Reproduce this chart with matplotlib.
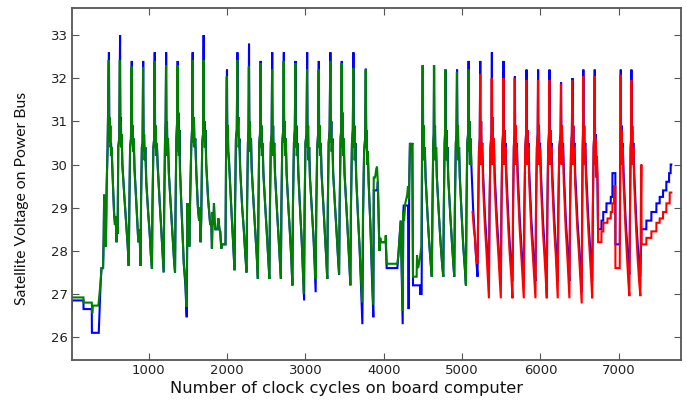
import matplotlib
matplotlib.use("Agg")
import matplotlib.pyplot as plt

# ---------------- data ----------------
# green series (x = clock cycle, y = bus voltage)
green_pts = [
    (20, 26.92), (170, 26.92), (171, 26.80), (276, 26.80), (282, 26.55), (290, 26.73), (360, 26.73),
    (372, 26.95), (390, 27.3), (400, 27.6), (420, 27.6), (428, 28.3), (434, 29.3), (442, 28.1),
    (448, 28.9), (456, 28.1), (466, 29.5), (478, 30.4),
    (492, 32.42), (497, 30.6), (502, 31.1), (508, 30.5), (514, 30.9), (520, 30.2), (530, 30.4),
    (545, 29.6), (560, 28.9), (572, 28.6), (580, 28.8), (592, 28.2), (600, 28.6), (606, 28.4),
    (614, 30.4), (626, 30.6),
    (634, 32.42), (640, 30.5), (645, 31.0), (652, 30.4), (658, 30.7), (665, 30.0), (690, 29.3),
    (705, 28.9), (720, 28.5), (735, 28.1), (748, 27.65), (755, 29.0), (765, 30.4), (776, 30.6),
    (784, 32.27), (790, 30.5), (796, 30.9), (802, 30.3), (810, 30.6), (820, 29.9), (845, 29.1),
    (870, 28.2), (885, 28.5), (898, 27.65), (905, 29.2), (915, 30.4), (924, 30.5),
    (930, 32.25), (936, 30.3), (942, 30.7), (950, 30.1), (958, 30.4), (970, 29.6), (995, 28.9),
    (1015, 28.4), (1030, 27.9), (1044, 27.58), (1050, 29.0), (1062, 30.4), (1072, 30.6),
    (1077, 32.4), (1083, 30.4), (1090, 30.9), (1096, 30.2), (1105, 30.5), (1115, 30.0), (1140, 29.2),
    (1160, 28.6), (1178, 28.0), (1193, 27.5), (1200, 29.0), (1210, 30.5), (1218, 31.0),
    (1223, 32.3), (1228, 30.6), (1234, 31.0), (1240, 30.2), (1247, 30.6), (1258, 29.8), (1285, 29.0),
    (1305, 28.4), (1325, 27.8), (1338, 27.5), (1345, 29.0), (1355, 30.6), (1365, 31.0),
    (1370, 32.3), (1375, 30.3), (1381, 31.2), (1387, 30.2), (1393, 30.8), (1400, 29.9), (1420, 29.0),
    (1440, 28.1), (1450, 27.7), (1470, 27.3), (1485, 26.7), (1497, 29.1), (1505, 28.5), (1512, 29.0),
    (1520, 28.1), (1530, 29.1), (1545, 30.4), (1555, 30.8),
    (1560, 32.42), (1566, 31.0), (1572, 30.5), (1578, 31.1), (1585, 30.4), (1595, 30.6), (1610, 29.8),
    (1630, 29.0), (1645, 28.7), (1652, 29.0), (1664, 28.2), (1672, 28.7), (1685, 30.5), (1695, 30.7),
    (1700, 32.42), (1706, 30.6), (1712, 31.0), (1718, 30.4), (1725, 30.8), (1735, 30.0), (1760, 29.2),
    (1787, 28.6), (1800, 28.7), (1809, 28.05), (1818, 28.9), (1828, 28.6), (1835, 29.1), (1842, 28.7),
    (1851, 28.5), (1880, 28.5), (1890, 28.75), (1905, 28.5), (1915, 28.45), (1928, 28.05), (1935, 28.15),
    (1982, 28.15), (1990, 30.5),
    (1998, 32.04), (2004, 30.5), (2010, 30.9), (2016, 30.3), (2025, 30.1), (2050, 29.2), (2070, 28.5),
    (2085, 28.0), (2097, 27.55), (2104, 29.0), (2115, 30.6), (2126, 30.8),
    (2132, 32.42), (2138, 30.8), (2144, 31.1), (2150, 30.4), (2158, 30.6), (2168, 29.9), (2195, 29.0),
    (2215, 28.5), (2235, 27.9), (2250, 27.5), (2257, 29.0), (2268, 30.5), (2275, 30.8),
    (2280, 32.27), (2286, 30.5), (2292, 31.0), (2298, 30.3), (2306, 30.6), (2315, 29.9), (2340, 29.1),
    (2360, 28.5), (2380, 27.9), (2395, 27.35), (2402, 29.0), (2412, 30.5), (2422, 30.7),
    (2428, 32.35), (2434, 30.4), (2440, 30.9), (2446, 30.2), (2454, 30.5), (2464, 29.8), (2490, 29.0),
    (2510, 28.4), (2528, 27.8), (2542, 27.35), (2549, 29.0), (2560, 30.5), (2570, 30.7),
    (2576, 32.2), (2582, 30.4), (2588, 30.9), (2594, 30.2), (2602, 30.5), (2612, 29.8), (2640, 28.9),
    (2660, 28.3), (2675, 27.8), (2688, 27.35), (2695, 29.0), (2706, 30.5), (2718, 30.8),
    (2724, 32.4), (2730, 30.5), (2736, 31.0), (2742, 30.2), (2750, 30.6), (2760, 29.8), (2785, 29.0),
    (2805, 28.4), (2822, 27.8), (2835, 27.2), (2842, 29.0), (2855, 30.5), (2866, 30.8),
    (2873, 32.35), (2879, 30.4), (2885, 30.9), (2891, 30.2), (2899, 30.5), (2910, 29.8), (2935, 28.9),
    (2955, 28.2), (2968, 27.6), (2980, 27.0), (2990, 29.0), (3002, 30.5), (3015, 30.7),
    (3022, 32.2), (3028, 30.4), (3034, 30.9), (3040, 30.1), (3048, 30.4), (3058, 29.7), (3085, 28.9),
    (3105, 28.3), (3120, 27.8), (3132, 27.35), (3140, 29.0), (3152, 30.4), (3163, 30.7),
    (3170, 32.2), (3176, 30.4), (3182, 30.9), (3188, 30.2), (3196, 30.5), (3206, 29.8), (3232, 29.0),
    (3252, 28.3), (3268, 27.8), (3280, 27.35), (3287, 29.0), (3298, 30.5), (3310, 30.8),
    (3318, 32.4), (3324, 30.5), (3330, 31.0), (3336, 30.3), (3344, 30.6), (3354, 29.8), (3380, 29.0),
    (3400, 28.4), (3418, 27.8), (3431, 27.45), (3438, 29.0), (3450, 30.6), (3458, 30.8),
    (3463, 32.35), (3469, 30.4), (3475, 31.2), (3481, 30.2), (3489, 30.6), (3499, 29.8), (3525, 29.0),
    (3545, 28.3), (3562, 27.7), (3575, 27.2), (3582, 29.0), (3595, 30.5), (3606, 30.8),
    (3612, 32.23), (3618, 30.4), (3624, 30.9), (3630, 30.1), (3638, 30.5), (3648, 29.7), (3672, 28.8),
    (3692, 28.1), (3710, 27.4), (3726, 26.8), (3735, 28.8), (3750, 30.3), (3763, 30.6),
    (3771, 32.2), (3777, 30.4), (3783, 30.8), (3789, 30.0), (3797, 30.3), (3807, 29.6), (3830, 28.6),
    (3850, 27.6), (3866, 26.75), (3873, 29.7), (3890, 29.7), (3905, 29.9), (3915, 29.95), (3925, 29.6),
    (3945, 28.0), (3955, 28.3), (3962, 28.2), (4020, 28.2), (4026, 28.36), (4038, 27.7), (4174, 27.7),
    (4187, 27.9), (4217, 28.7), (4242, 26.6), (4250, 28.9), (4260, 28.7), (4275, 29.1), (4300, 29.3),
    (4310, 29.5), (4322, 29.2), (4335, 30.5), (4350, 30.3), (4365, 30.5), (4374, 27.4), (4420, 27.4),
    (4425, 27.9), (4440, 27.6), (4460, 27.8), (4480, 28.1), (4490, 30.4),
    (4497, 32.3), (4503, 30.2), (4509, 30.9), (4515, 30.1), (4523, 30.4), (4533, 29.7), (4560, 28.8),
    (4580, 28.2), (4600, 27.7), (4614, 27.4), (4622, 29.0), (4632, 30.5), (4638, 30.7),
    (4641, 32.3), (4647, 30.3), (4653, 30.9), (4659, 30.1), (4667, 30.4), (4677, 29.7), (4705, 28.8),
    (4725, 28.2), (4745, 27.7), (4760, 27.4), (4767, 29.0), (4777, 30.5), (4782, 30.7),
    (4786, 32.2), (4792, 30.3), (4798, 30.8), (4804, 30.1), (4812, 30.4), (4822, 29.7), (4850, 28.8),
    (4870, 28.2), (4888, 27.7), (4900, 27.4), (4908, 29.0), (4920, 30.5), (4928, 30.7),
    (4934, 32.15), (4940, 30.3), (4946, 30.9), (4952, 30.1), (4960, 30.4), (4970, 29.7), (4995, 28.8),
    (5015, 28.1), (5035, 27.6), (5049, 27.2), (5056, 29.0), (5066, 30.5), (5076, 30.7),
    (5081, 32.2), (5087, 30.3), (5093, 31.0), (5100, 30.0), (5108, 30.6), (5118, 30.0),
]

# blue series
blue_pts = [
    (20, 26.65), (24, 26.85), (170, 26.85), (171, 26.65), (276, 26.65), (278, 26.1), (365, 26.1),
    (378, 26.72), (390, 27.3), (400, 27.6), (420, 27.6), (428, 28.3), (434, 29.3), (442, 28.1),
    (448, 28.9), (456, 28.1), (466, 29.5), (478, 30.4),
    (495, 32.6), (500, 31.1), (505, 30.7), (510, 30.9), (516, 30.4), (522, 30.5), (532, 30.2),
    (545, 29.6), (560, 28.9), (572, 28.6), (580, 28.8), (592, 28.2), (600, 28.6), (606, 28.4),
    (614, 30.4), (626, 30.6),
    (637, 33.0), (642, 30.7), (647, 31.1), (654, 30.4), (660, 30.6), (667, 30.0), (690, 29.3),
    (705, 28.9), (720, 28.5), (735, 28.1), (748, 27.65), (755, 29.0), (765, 30.4), (776, 30.6),
    (786, 32.4), (792, 30.7), (798, 30.9), (804, 30.3), (812, 30.6), (822, 29.9), (845, 29.1),
    (870, 28.2), (885, 28.5), (898, 27.65), (905, 29.2), (915, 30.4), (924, 30.5),
    (932, 32.4), (938, 30.5), (944, 30.7), (952, 30.1), (960, 30.4), (972, 29.6), (995, 28.9),
    (1015, 28.4), (1030, 27.9), (1044, 27.58), (1050, 29.0), (1062, 30.4), (1072, 30.6),
    (1079, 32.6), (1085, 30.6), (1092, 30.9), (1098, 30.2), (1107, 30.5), (1117, 30.0), (1140, 29.2),
    (1160, 28.6), (1178, 28.0), (1193, 27.5), (1200, 29.0), (1210, 30.5), (1218, 31.0),
    (1225, 32.6), (1230, 30.7), (1236, 31.0), (1242, 30.2), (1249, 30.6), (1260, 29.8), (1285, 29.0),
    (1305, 28.4), (1325, 27.8), (1338, 27.5), (1345, 29.0), (1355, 30.6), (1365, 31.0),
    (1372, 32.4), (1377, 30.5), (1383, 31.2), (1389, 30.2), (1395, 30.8), (1402, 29.9), (1420, 29.0),
    (1440, 28.1), (1450, 27.7), (1470, 27.2), (1487, 26.46), (1497, 29.1), (1505, 28.5), (1512, 29.0),
    (1520, 28.1), (1530, 29.1), (1545, 30.4), (1555, 30.8),
    (1563, 32.6), (1568, 31.1), (1574, 30.5), (1580, 31.1), (1587, 30.4), (1597, 30.6), (1610, 29.8),
    (1630, 29.0), (1645, 28.7), (1652, 29.0), (1664, 28.2), (1672, 28.7), (1685, 30.5), (1695, 30.7),
    (1703, 33.0), (1708, 30.7), (1714, 31.0), (1720, 30.4), (1727, 30.8), (1737, 30.0), (1760, 29.2),
    (1787, 28.6), (1800, 28.7), (1809, 28.05), (1818, 28.9), (1828, 28.6), (1835, 29.1), (1842, 28.7),
    (1851, 28.5), (1880, 28.5), (1890, 28.75), (1905, 28.5), (1915, 28.45), (1928, 28.05), (1935, 28.15),
    (1982, 28.15), (1990, 30.5),
    (2001, 32.2), (2006, 30.5), (2012, 30.9), (2018, 30.3), (2027, 30.1), (2050, 29.2), (2070, 28.5),
    (2085, 28.0), (2097, 27.55), (2104, 29.0), (2115, 30.6), (2126, 30.8),
    (2134, 32.6), (2140, 30.8), (2146, 31.1), (2152, 30.4), (2160, 30.6), (2170, 29.9), (2195, 29.0),
    (2215, 28.5), (2235, 27.9), (2250, 27.5), (2257, 29.0), (2268, 30.5), (2275, 30.8),
    (2282, 32.8), (2288, 30.5), (2294, 31.0), (2300, 30.3), (2308, 30.6), (2317, 29.9), (2340, 29.1),
    (2360, 28.5), (2380, 27.9), (2395, 27.35), (2402, 29.0), (2412, 30.5), (2422, 30.7),
    (2430, 32.4), (2436, 30.4), (2442, 30.9), (2448, 30.2), (2456, 30.5), (2466, 29.8), (2490, 29.0),
    (2510, 28.4), (2528, 27.8), (2542, 27.35), (2549, 29.0), (2560, 30.5), (2570, 30.7),
    (2578, 32.6), (2584, 30.4), (2590, 30.9), (2596, 30.2), (2604, 30.5), (2614, 29.8), (2640, 28.9),
    (2660, 28.3), (2675, 27.8), (2688, 27.35), (2695, 29.0), (2706, 30.5), (2718, 30.8),
    (2726, 32.6), (2732, 30.5), (2738, 31.0), (2744, 30.2), (2752, 30.6), (2762, 29.8), (2785, 29.0),
    (2805, 28.4), (2822, 27.8), (2835, 27.2), (2842, 29.0), (2855, 30.5), (2866, 30.8),
    (2875, 32.4), (2881, 30.4), (2887, 30.9), (2893, 30.2), (2901, 30.5), (2912, 29.8), (2935, 28.9),
    (2955, 28.2), (2970, 27.5), (2985, 26.85), (2992, 29.0), (3002, 30.5), (3015, 30.7),
    (3024, 32.6), (3030, 30.4), (3036, 30.9), (3042, 30.1), (3050, 30.4), (3060, 29.7), (3085, 28.9),
    (3105, 28.3), (3120, 27.6), (3132, 27.04), (3140, 29.0), (3152, 30.4), (3163, 30.7),
    (3172, 32.4), (3178, 30.4), (3184, 30.9), (3190, 30.2), (3198, 30.5), (3208, 29.8), (3232, 29.0),
    (3252, 28.3), (3268, 27.8), (3280, 27.35), (3287, 29.0), (3298, 30.5), (3310, 30.8),
    (3320, 32.6), (3326, 30.5), (3332, 31.0), (3338, 30.3), (3346, 30.6), (3356, 29.8), (3380, 29.0),
    (3400, 28.4), (3418, 27.8), (3431, 27.45), (3438, 29.0), (3450, 30.6), (3458, 30.8),
    (3465, 32.4), (3471, 30.4), (3477, 31.2), (3483, 30.2), (3491, 30.6), (3501, 29.8), (3525, 29.0),
    (3545, 28.3), (3562, 27.7), (3575, 27.2), (3582, 29.0), (3595, 30.5), (3606, 30.8),
    (3614, 32.6), (3620, 30.4), (3626, 30.9), (3632, 30.1), (3640, 30.5), (3650, 29.7), (3672, 28.8),
    (3692, 28.1), (3710, 27.2), (3728, 26.3), (3737, 28.8), (3750, 30.3), (3763, 30.6),
    (3772, 32.22), (3778, 30.4), (3784, 30.8), (3790, 30.0), (3798, 30.3), (3808, 29.6), (3830, 28.6),
    (3850, 27.4), (3868, 26.46), (3874, 29.4), (3918, 29.4), (3925, 29.6), (3945, 28.0), (3955, 28.3),
    (3962, 28.2), (4026, 28.2), (4038, 27.6), (4174, 27.6), (4187, 27.9), (4217, 28.7), (4242, 26.3),
    (4250, 28.9), (4255, 29.05), (4310, 29.05), (4318, 26.65), (4326, 29.6), (4335, 30.5), (4350, 30.3),
    (4365, 30.5), (4374, 27.2), (4463, 27.2), (4464, 27.0), (4484, 27.0), (4490, 30.4),
    (4499, 32.3), (4505, 30.2), (4511, 30.9), (4517, 30.1), (4525, 30.4), (4535, 29.7), (4560, 28.8),
    (4580, 28.2), (4600, 27.7), (4614, 27.4), (4622, 29.0), (4632, 30.5), (4638, 30.7),
    (4643, 32.3), (4649, 30.3), (4655, 30.9), (4661, 30.1), (4669, 30.4), (4679, 29.7), (4705, 28.8),
    (4725, 28.2), (4745, 27.7), (4760, 27.4), (4767, 29.0), (4777, 30.5), (4782, 30.7),
    (4788, 32.2), (4794, 30.3), (4800, 30.8), (4806, 30.1), (4814, 30.4), (4824, 29.7), (4850, 28.8),
    (4870, 28.2), (4888, 27.7), (4900, 27.4), (4908, 29.0), (4920, 30.5), (4928, 30.7),
    (4936, 32.2), (4942, 30.3), (4948, 30.9), (4954, 30.1), (4962, 30.4), (4972, 29.7), (4995, 28.8),
    (5015, 28.1), (5035, 27.6), (5049, 27.2), (5056, 29.0), (5066, 30.5), (5076, 30.7),
    (5083, 32.4), (5088, 30.5), (5094, 31.0), (5100, 30.0), (5108, 30.6), (5118, 30.0), (5140, 29.0),
    (5160, 28.4), (5180, 27.8), (5197, 27.4), (5205, 28.9), (5215, 30.3), (5225, 30.6),
    (5232, 32.4), (5237, 30.3), (5243, 31.0), (5249, 30.3), (5257, 30.5), (5268, 29.8), (5292, 28.8),
    (5312, 28.2), (5330, 27.7), (5342, 27.35), (5350, 29.0), (5362, 30.4), (5374, 30.7),
    (5380, 32.6), (5385, 30.3), (5391, 31.1), (5397, 30.3), (5405, 30.6), (5416, 29.8), (5442, 28.8),
    (5462, 28.2), (5480, 27.6), (5494, 27.25), (5502, 29.0), (5512, 30.4), (5522, 30.7),
    (5529, 32.4), (5534, 30.3), (5540, 30.8), (5546, 30.3), (5554, 30.5), (5565, 29.8), (5592, 28.7),
    (5610, 28.1), (5630, 27.6), (5643, 27.3), (5650, 29.0), (5660, 30.4), (5668, 30.7),
    (5673, 32.04), (5679, 30.3), (5685, 30.9), (5691, 30.3), (5699, 30.5), (5710, 29.8), (5737, 28.7),
    (5757, 28.1), (5774, 27.6), (5787, 27.3), (5795, 29.0), (5806, 30.4), (5816, 30.7),
    (5822, 32.2), (5827, 30.3), (5833, 30.8), (5839, 30.3), (5847, 30.5), (5858, 29.8), (5884, 28.7),
    (5904, 28.1), (5922, 27.6), (5936, 27.3), (5943, 29.0), (5954, 30.4), (5964, 30.7),
    (5970, 32.2), (5975, 30.3), (5981, 30.9), (5987, 30.3), (5995, 30.5), (6006, 29.8), (6032, 28.7),
    (6052, 28.1), (6068, 27.6), (6080, 27.25), (6088, 29.0), (6098, 30.4), (6108, 30.7),
    (6115, 32.2), (6120, 30.3), (6126, 30.8), (6132, 30.3), (6140, 30.5), (6151, 29.8), (6177, 28.7),
    (6197, 28.1), (6210, 27.6), (6220, 27.3), (6228, 29.0), (6240, 30.4), (6256, 30.7),
    (6263, 31.9), (6268, 30.3), (6274, 30.9), (6280, 30.3), (6288, 30.5), (6299, 29.8), (6324, 28.7),
    (6344, 28.1), (6358, 27.6), (6369, 27.3), (6377, 29.0), (6390, 30.4), (6400, 30.7),
    (6408, 32.0), (6413, 30.3), (6419, 30.9), (6425, 30.3), (6433, 30.5), (6443, 29.8), (6472, 28.7),
    (6494, 28.1), (6512, 27.5), (6526, 27.05), (6532, 29.0), (6538, 30.4), (6542, 30.7),
    (6547, 32.2), (6552, 30.3), (6558, 30.9), (6564, 30.3), (6572, 30.5), (6583, 29.8), (6612, 28.7),
    (6632, 28.1), (6648, 27.6), (6660, 27.3), (6668, 29.0), (6678, 30.4), (6686, 30.7),
    (6692, 32.2), (6697, 30.2), (6703, 30.7), (6712, 30.2), (6725, 29.8), (6734, 28.5), (6777, 28.5),
    (6778, 28.7), (6800, 28.7), (6801, 28.9), (6841, 28.9), (6842, 29.1), (6896, 29.1), (6897, 29.25),
    (6917, 29.25), (6918, 29.8), (6955, 29.8), (6956, 28.15), (7011, 28.15), (7018, 30.4),
    (7024, 32.2), (7029, 30.3), (7035, 30.9), (7041, 30.2), (7049, 30.5), (7060, 29.8), (7087, 28.7),
    (7107, 28.1), (7122, 27.7), (7134, 27.45), (7142, 29.0), (7150, 30.4), (7156, 30.6),
    (7160, 32.2), (7165, 30.3), (7171, 30.9), (7177, 30.2), (7185, 30.5), (7196, 29.8), (7222, 28.7),
    (7242, 28.1), (7260, 27.7), (7274, 27.4), (7287, 28.5), (7350, 28.5), (7351, 28.7), (7414, 28.7),
    (7415, 28.9), (7478, 28.9), (7479, 29.1), (7520, 29.1), (7521, 29.25), (7563, 29.25), (7564, 29.4),
    (7605, 29.4), (7606, 29.6), (7640, 29.6), (7641, 29.8), (7660, 29.8), (7661, 30.0), (7669, 30.0),
]

# red series
red_pts = [
    (5134, 28.9), (5150, 28.5), (5165, 28.3), (5180, 27.8), (5197, 27.7), (5205, 28.8), (5215, 30.3),
    (5225, 30.6),
    (5230, 32.1), (5236, 30.0), (5242, 31.0), (5248, 30.1), (5256, 30.5), (5266, 29.6), (5290, 28.6),
    (5310, 28.0), (5328, 27.4), (5342, 26.9), (5350, 29.0), (5362, 30.4), (5374, 30.7),
    (5378, 32.0), (5384, 30.0), (5390, 31.1), (5396, 30.1), (5404, 30.6), (5414, 29.6), (5440, 28.6),
    (5460, 28.0), (5478, 27.4), (5494, 26.9), (5502, 29.0), (5512, 30.4), (5522, 30.7),
    (5527, 32.0), (5533, 30.0), (5539, 30.8), (5545, 30.1), (5553, 30.4), (5563, 29.6), (5590, 28.5),
    (5608, 27.9), (5628, 27.4), (5643, 26.9), (5650, 29.0), (5660, 30.4), (5668, 30.7),
    (5672, 32.0), (5678, 30.0), (5684, 30.9), (5690, 30.1), (5698, 30.4), (5708, 29.6), (5735, 28.5),
    (5755, 27.9), (5772, 27.4), (5787, 26.9), (5795, 29.0), (5806, 30.4), (5816, 30.7),
    (5820, 31.96), (5826, 30.0), (5832, 30.8), (5838, 30.1), (5846, 30.4), (5856, 29.6), (5882, 28.5),
    (5902, 27.9), (5920, 27.4), (5936, 26.9), (5943, 29.0), (5954, 30.4), (5964, 30.7),
    (5968, 31.96), (5974, 30.0), (5980, 30.9), (5986, 30.1), (5994, 30.4), (6004, 29.6), (6030, 28.5),
    (6050, 27.9), (6066, 27.4), (6080, 26.9), (6088, 29.0), (6098, 30.4), (6108, 30.7),
    (6113, 31.96), (6119, 30.0), (6125, 30.8), (6131, 30.1), (6139, 30.4), (6149, 29.6), (6175, 28.5),
    (6195, 27.9), (6208, 27.4), (6220, 26.9), (6228, 29.0), (6240, 30.4), (6256, 30.7),
    (6261, 31.87), (6267, 30.0), (6273, 30.9), (6279, 30.1), (6287, 30.4), (6297, 29.6), (6322, 28.5),
    (6342, 27.9), (6356, 27.4), (6369, 26.9), (6377, 29.0), (6390, 30.4), (6400, 30.7),
    (6405, 31.96), (6411, 30.0), (6417, 30.9), (6423, 30.1), (6431, 30.4), (6441, 29.6), (6470, 28.5),
    (6492, 27.9), (6510, 27.3), (6526, 26.78), (6532, 29.0), (6538, 30.4), (6542, 30.7),
    (6545, 32.05), (6551, 30.0), (6557, 30.9), (6563, 30.1), (6571, 30.4), (6581, 29.6), (6610, 28.5),
    (6630, 27.9), (6646, 27.4), (6660, 26.9), (6668, 29.0), (6678, 30.4), (6686, 30.7),
    (6691, 32.05), (6697, 30.0), (6703, 30.6), (6710, 29.7), (6720, 30.2), (6730, 29.5), (6735, 28.2),
    (6777, 28.2), (6778, 28.45), (6802, 28.45), (6803, 28.65), (6854, 28.65), (6855, 28.75),
    (6896, 28.75), (6897, 28.9), (6917, 28.9), (6918, 29.1), (6938, 29.1), (6939, 29.5), (6955, 29.5),
    (6956, 27.6), (7011, 27.6), (7018, 30.4),
    (7023, 32.08), (7029, 30.0), (7035, 30.8), (7041, 30.0), (7049, 30.4), (7059, 29.6), (7085, 28.5),
    (7105, 27.8), (7120, 27.3), (7134, 26.95), (7142, 29.0), (7150, 30.4), (7156, 30.6),
    (7159, 31.96), (7165, 30.0), (7171, 30.8), (7177, 30.0), (7185, 30.4), (7195, 29.6), (7220, 28.5),
    (7240, 27.8), (7258, 27.3), (7274, 26.95), (7280, 29.0), (7287, 30.0), (7290, 28.15), (7350, 28.15),
    (7351, 28.3), (7414, 28.3), (7415, 28.45), (7478, 28.45), (7479, 28.65), (7520, 28.65),
    (7521, 28.75), (7563, 28.75), (7564, 28.9), (7605, 28.9), (7606, 29.1), (7648, 29.1),
    (7649, 29.35), (7669, 29.35),
]

x_ticks = [1000, 2000, 3000, 4000, 5000, 6000, 7000]
y_ticks = [26, 27, 28, 29, 30, 31, 32, 33]
x_label = "Number of clock cycles on board computer"
y_label = "Satellite Voltage on Power Bus"

# ---------------- drawing ----------------
W, H = 686, 401
fig = plt.figure(figsize=(W / 100, H / 100), dpi=100)
fig.patch.set_facecolor("white")
ax = fig.add_axes([71.7 / W, 1 - 360 / H, (680.5 - 71.7) / W, (360 - 8.3) / H])

bx, by = zip(*blue_pts)
gx, gy = zip(*green_pts)
rx, ry = zip(*red_pts)
ax.plot(bx, by, color="#0000ff", lw=1.5, solid_joinstyle="miter")
ax.plot(gx, gy, color="#008000", lw=1.5, solid_joinstyle="miter")
ax.plot(rx, ry, color="#ff0000", lw=1.5, solid_joinstyle="miter")

ax.set_xlim(20, 7786)
ax.set_ylim(25.47, 33.62)
ax.set_xticks(x_ticks)
ax.set_yticks(y_ticks)
ax.tick_params(direction="in", top=True, right=True, length=5, width=0.8,
               labelsize=9.5, labelcolor="#222222", color="#555555", pad=3)
for s in ax.spines.values():
    s.set_color("#555555")
    s.set_linewidth(1.3)

fig.text(347 / W, 1 - 389 / H, x_label, ha="center", va="center", fontsize=11.8,
         color="#111111", family="DejaVu Sans")
fig.text(22 / W, 1 - 198 / H, y_label, ha="center", va="center", rotation=90,
         fontsize=11.3, color="#111111", family=["Lato", "DejaVu Sans"])

fig.savefig("out.png", dpi=100, facecolor="white")
